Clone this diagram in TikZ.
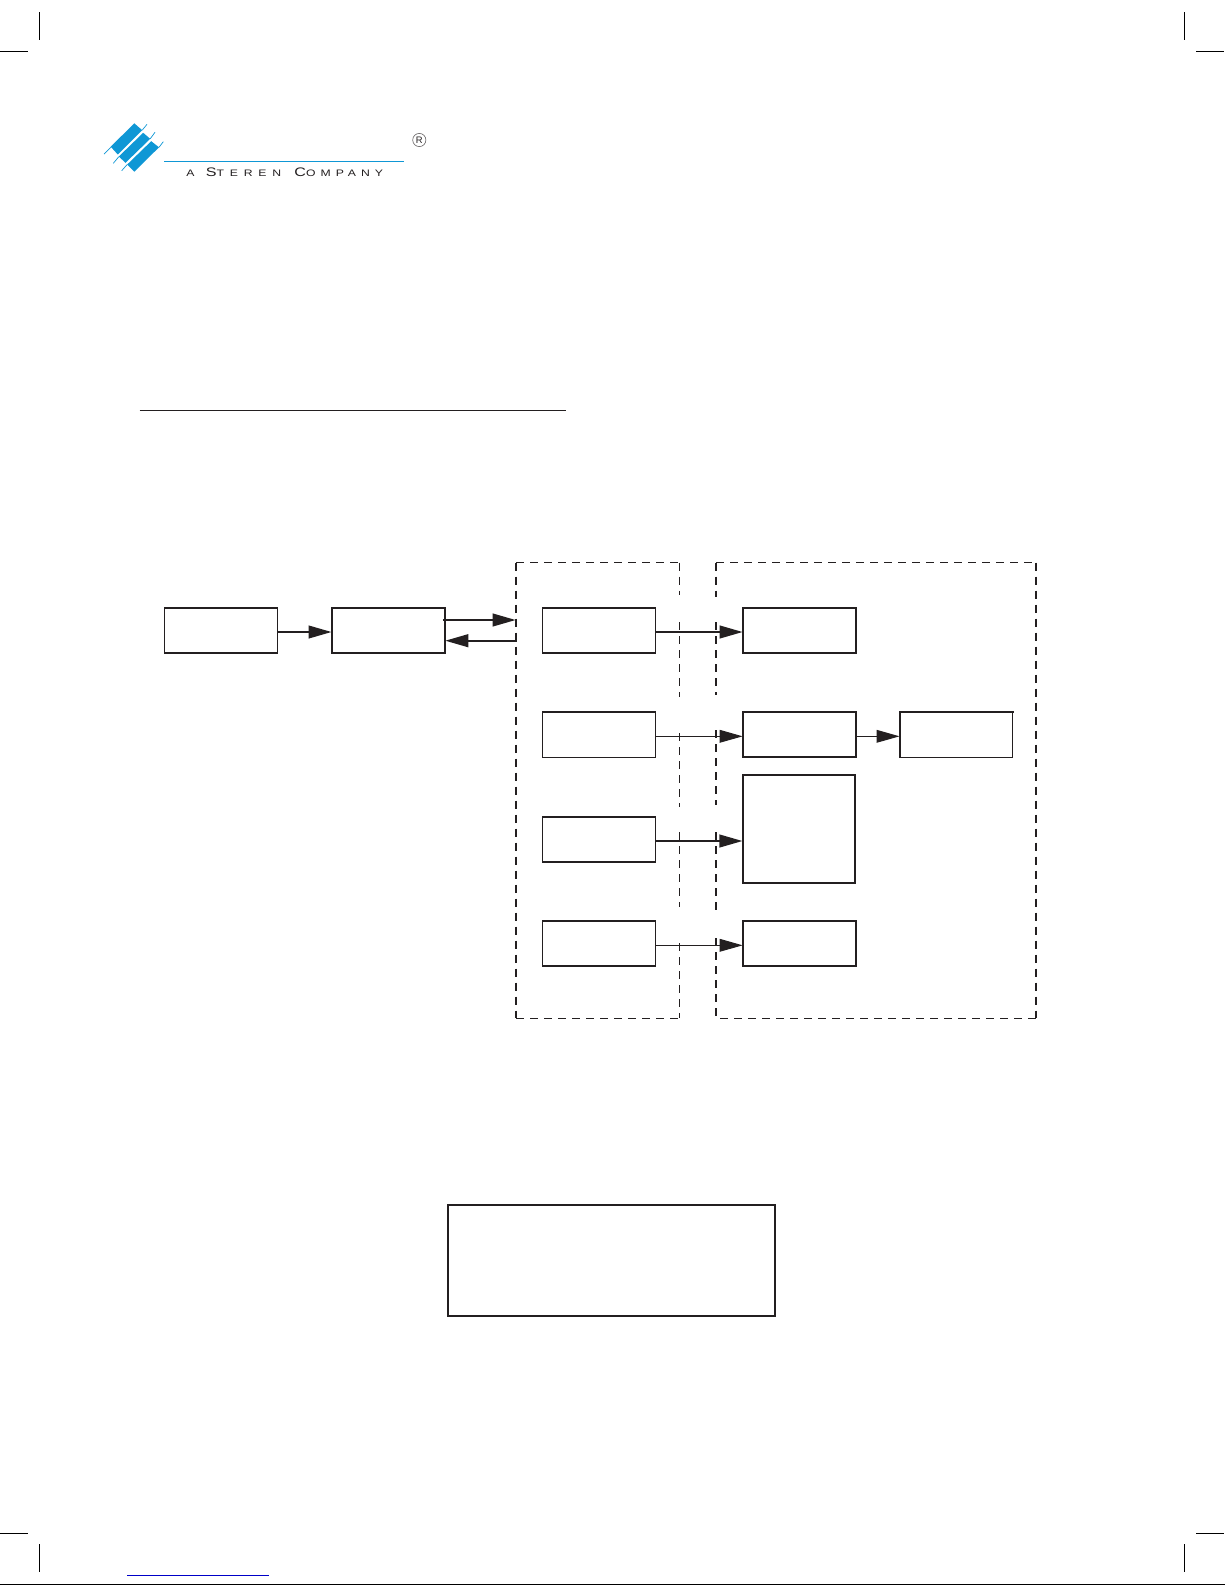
\documentclass[tikz,border=0pt]{standalone}
\usepackage{fontspec}
\setmainfont{Liberation Sans}
\newfontfamily\logosmall[LetterSpace=62,FakeStretch=1.3]{Liberation Sans}
\newfontfamily\logotight[LetterSpace=53,FakeStretch=1.3]{Liberation Sans}
\usetikzlibrary{arrows.meta}
\definecolor{ink}{HTML}{231F20}
\definecolor{logoblue}{HTML}{0F97D5}
\tikzset{
  blk/.style={draw=ink,line width=0.8pt,fill=white,inner sep=0pt,outer sep=0pt,minimum width=56.5pt,minimum height=22.5pt},
  thinblk/.style={blk,line width=0.5pt},
  edge/.style={draw=ink,line width=0.8pt,line cap=rect},
  heavy/.style={draw=ink,line width=0.85pt,-{Triangle[length=11.5pt,width=6.4pt]},shorten >=0.2pt},
  light/.style={draw=ink,line width=0.5pt,-{Triangle[length=11.5pt,width=6.4pt]},shorten >=0.2pt},
  dashthin/.style={draw=ink,line width=0.5pt,dash pattern=on 4.2pt off 2.8pt},
  dashthick/.style={draw=ink,line width=0.9pt,dash pattern=on 3.9pt off 3.1pt},
  crop/.style={draw=black,line width=0.5pt},
  band/.style={fill=logoblue,draw=none},
  hair/.style={draw=logoblue,line width=0.35pt}
}
\begin{document}
\begin{tikzpicture}[x=0.5pt,y=-0.5pt]
\useasboundingbox (0,0) rectangle (1225,1585);
% crop marks
\draw[crop] (39.5,12) -- (39.5,40);
\draw[crop] (0,51.3) -- (28,51.3);
\draw[crop] (1184.3,12) -- (1184.3,40);
\draw[crop] (1196,51.3) -- (1224,51.3);
\draw[crop] (0,1533) -- (28,1533);
\draw[crop] (39.5,1544) -- (39.5,1572);
\draw[crop] (1196,1533.3) -- (1224,1533.3);
\draw[crop] (1184.3,1544) -- (1184.3,1572);
\draw[draw=black,line width=0.5pt] (0,1584.3) -- (1225,1584.3);
\draw[draw={rgb,255:red,0;green,0;blue,200},line width=0.5pt] (127,1575.3) -- (268.7,1575.3);
% logo
\fill[band] (134.3,123.3) -- (142.2,130.2) -- (117.8,154.5) -- (110.7,146.7) -- cycle;
\fill[band] (143.2,132.8) -- (150.2,138.8) -- (125.5,162.8) -- (118.8,156.5) -- cycle;
\fill[band] (151.2,141.2) -- (159,147.3) -- (134.3,171.7) -- (127.2,164.5) -- cycle;
\draw[hair] (104,154) -- (110.7,147.3);
\draw[hair] (142.2,130.2) -- (147,124.3);
\draw[hair] (113.3,163.3) -- (118.8,156.7);
\draw[hair] (150.2,138.8) -- (155,132.3);
\draw[hair] (121.7,170.7) -- (127.2,164.5);
\draw[hair] (159,147.3) -- (163.3,141.7);
\draw[draw=logoblue,line width=0.5pt] (164,161.3) -- (403.7,161.3);
\node[anchor=base west,inner sep=0pt,text=ink] (tagline) at (186,176.7)
  {\logosmall\fontsize{4.7pt}{5pt}\selectfont A \hspace{1pt}{\fontsize{6.2pt}{7pt}\selectfont S}TEREN \hspace{2pt}\logotight\fontsize{4.7pt}{5pt}\selectfont{\fontsize{6.2pt}{7pt}\selectfont C}OMPANY};
\node[circle,draw=ink!70,line width=0.3pt,minimum size=6.6pt,inner sep=0pt,text=ink] (reg) at (419.3,140)
  {\fontsize{4.7pt}{5pt}\selectfont R};
% heading rule
\draw[draw=ink,line width=0.5pt] (139.5,410.4) -- (566,410.4);
% dashed enclosures
\draw[dashthin] (516,562.7) -- (679.3,562.7);
\draw[dashthin] (716,562.7) -- (1036,562.7);
\draw[dashthin] (516,1018.3) -- (679.3,1018.3);
\draw[dashthin] (720,1018.3) -- (1036,1018.3);
\draw[dashthick] (516,562.7) -- (516,1018.3);
\draw[dashthick] (1036,562.7) -- (1036,1018.3);
\draw[dashthin] (679.3,562.7) -- (679.3,595);
\draw[dashthin] (679.3,622) -- (679.3,697);
\draw[dashthin] (679.3,733) -- (679.3,807);
\draw[dashthin] (679.3,832) -- (679.3,907);
\draw[dashthin] (679.3,943) -- (679.3,1018.3);
\draw[dashthick] (716,562.7) -- (716,597);
\draw[dashthick] (716,622) -- (716,695);
\draw[dashthick] (716,730) -- (716,805);
\draw[dashthick] (716,832) -- (716,913);
\draw[dashthick] (716,938) -- (716,1018.3);
% blocks
\node[blk] (a) at (220.9,630.2) {};
\node[blk] (b) at (388.4,630.2) {};
\node[blk] (c1) at (599,630.2) {};
\node[thinblk] (c2) at (599,734.5) {};
\node[blk] (c3) at (599,839.2) {};
\node[blk] (c4) at (599,943.4) {};
\node[blk] (d1) at (799.5,630.2) {};
\node[blk] (d2) at (799.5,734.5) {};
\node[thinblk] (d3) at (956.4,734.5) {};
\node[blk,minimum width=56.3pt,minimum height=54.1pt,line width=1pt] (d4) at (799.1,828.9) {};
\node[blk] (d5) at (799.5,943.5) {};
\node[blk,minimum width=163.6pt,minimum height=55.6pt,line width=0.95pt] (e) at (611.4,1260.3) {};
\draw[edge] (c2.north west) -- (c2.north east) -- (c2.south east);
\draw[edge] (d3.south west) -- (d3.north west) -- (d3.north east);
% rails for connector heights
\coordinate (r1) at (0,632);
\coordinate (r2) at (0,620);
\coordinate (r3) at (0,640.7);
\coordinate (r4) at (0,736.3);
\coordinate (r5) at (0,841);
\coordinate (r6) at (0,945.3);
\coordinate (lb) at (516,0);
\coordinate (lc) at (516.5,0);
% connectors
\draw[heavy] (a.east |- r1) -- (b.west |- r1);
\draw[heavy,shorten <=-1pt] (b.east |- r2) -- (lb |- r2);
\draw[heavy] (lc |- r3) -- (b.east |- r3);
\draw[heavy] (c1.east |- r1) -- (d1.west |- r1);
\draw[light] (c2.east |- r4) -- (d2.west |- r4);
\draw[heavy] (c3.east |- r5) -- (d4.west |- r5);
\draw[light] (c4.east |- r6) -- (d5.west |- r6);
\draw[light] (d2.east |- r4) -- (d3.west |- r4);
\end{tikzpicture}
\end{document}
